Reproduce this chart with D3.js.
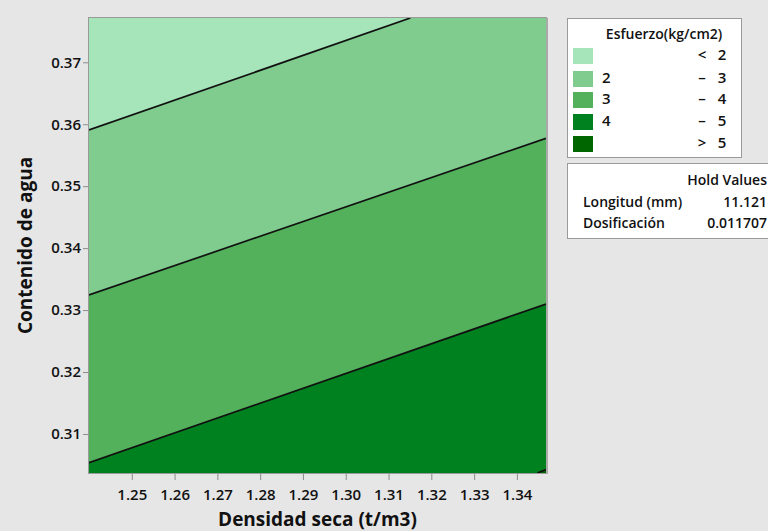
<!DOCTYPE html>
<html>
<head>
<meta charset="utf-8">
<script src="https://cdn.jsdelivr.net/npm/d3@7"></script>
<style>
  body { margin: 0; background: #e6e6e6; }
  svg { display: block; font-family: "Open Sans", "Noto Sans", sans-serif; }
</style>
</head>
<body>
<svg id="chart" width="768" height="531"></svg>
<script>
// axis ranges and ticks
var xDomain = [1.24, 1.3468];
var yDomain = [0.3037, 0.37715];
var xTicks = [1.25, 1.26, 1.27, 1.28, 1.29, 1.30, 1.31, 1.32, 1.33, 1.34];
var yTicks = [0.31, 0.32, 0.33, 0.34, 0.35, 0.36, 0.37];

// contour lines (Densidad seca, Contenido de agua)
var contour2 = [[1.24, 0.35907], [1.3151, 0.37715]];
var contour3 = [[1.24, 0.33244], [1.3468, 0.35773]];
var contour4 = [[1.24, 0.30537], [1.3468, 0.33098]];
var contour5 = [[1.34475, 0.3037], [1.3468, 0.30427]];

var bandLabels = [["", "<", "2"], ["2", "–", "3"], ["3", "–", "4"], ["4", "–", "5"], ["", ">", "5"]];
var bandColors = ["#a6e5b9", "#80cc8f", "#53b05b", "#008120", "#006700"];

var holdNames = ["Longitud (mm)", "Dosificación"];
var holdValues = ["11.121", "0.011707"];

var svg = d3.select("#chart");
var pL = 89, pT = 18, pR = 546, pB = 473;

var x = d3.scaleLinear().domain(xDomain).range([pL, pR]);
var y = d3.scaleLinear().domain(yDomain).range([pB, pT]);

svg.append("defs").append("clipPath").attr("id", "plotclip")
  .append("rect").attr("x", pL).attr("y", pT)
  .attr("width", pR - pL).attr("height", pB - pT);

var plot = svg.append("g").attr("clip-path", "url(#plotclip)");

plot.append("rect")
  .attr("x", pL).attr("y", pT)
  .attr("width", pR - pL).attr("height", pB - pT)
  .attr("fill", bandColors[0]);

// fill the area below each contour with the next band colour
var area = d3.area()
  .x(function(d) { return x(d[0]); })
  .y0(pB)
  .y1(function(d) { return y(d[1]); });

var contours = [contour2, contour3, contour4, contour5];
contours.forEach(function(c, i) {
  var pts = c.slice();
  var last = pts[pts.length - 1];
  if (last[0] < xDomain[1]) pts.push([xDomain[1], last[1]]);
  plot.append("path")
    .attr("d", area(pts))
    .attr("fill", bandColors[i + 1]);
});

var line = d3.line()
  .x(function(d) { return x(d[0]); })
  .y(function(d) { return y(d[1]); });

contours.forEach(function(c) {
  plot.append("path")
    .attr("d", line(c))
    .attr("fill", "none")
    .attr("stroke", "#111")
    .attr("stroke-width", 1.7);
});

// frame
svg.append("rect")
  .attr("x", pL - 0.5).attr("y", pT - 0.5)
  .attr("width", pR - pL + 1).attr("height", pB - pT + 1)
  .attr("fill", "none").attr("stroke", "#9a9a9a").attr("stroke-width", 1);
svg.append("line")
  .attr("x1", pR + 1).attr("x2", pR + 1).attr("y1", pT).attr("y2", pB + 1)
  .attr("stroke", "#aaa").attr("stroke-width", 2);

// axes
var xAxis = svg.append("g")
  .attr("transform", "translate(0," + (pB + 1) + ")")
  .call(d3.axisBottom(x).tickValues(xTicks).tickFormat(d3.format(".2f")).tickSize(6).tickSizeOuter(0));
var yAxis = svg.append("g")
  .attr("transform", "translate(" + (pL - 1) + ",0)")
  .call(d3.axisLeft(y).tickValues(yTicks).tickFormat(d3.format(".2f")).tickSize(5).tickSizeOuter(0));

[xAxis, yAxis].forEach(function(a) {
  a.select(".domain").remove();
  a.selectAll(".tick line").attr("stroke", "#8c8c8c");
  a.selectAll(".tick text")
    .attr("fill", "#111")
    .style("font-size", "15px")
    .style("font-weight", "600")
    .style("font-family", "'Open Sans', sans-serif");
});
xAxis.selectAll(".tick text").attr("dy", "1.1em");
yAxis.selectAll(".tick text").attr("x", -7);

svg.append("text")
  .attr("x", (pL + pR) / 2).attr("y", 526)
  .attr("text-anchor", "middle")
  .style("font-size", "19px").style("font-weight", "700").attr("fill", "#111")
  .text("Densidad seca (t/m3)");

svg.append("text")
  .attr("transform", "translate(32," + ((pT + pB) / 2) + ") rotate(-90)")
  .attr("text-anchor", "middle")
  .style("font-size", "19px").style("font-weight", "700").attr("fill", "#111")
  .text("Contenido de agua");

// legend
var lg = svg.append("g");
lg.append("rect")
  .attr("x", 567.5).attr("y", 18.5).attr("width", 174).attr("height", 139)
  .attr("fill", "#fff").attr("stroke", "#9a9a9a");
lg.append("text")
  .attr("x", 664).attr("y", 39).attr("text-anchor", "middle")
  .style("font-size", "14px").style("font-weight", "600").attr("fill", "#111")
  .text("Esfuerzo(kg/cm2)");

var rowY = [48, 71, 92, 114, 136];
bandLabels.forEach(function(b, i) {
  lg.append("rect")
    .attr("x", 573).attr("y", rowY[i]).attr("width", 20).attr("height", 16)
    .attr("fill", bandColors[i]);
  var ty = rowY[i] + 12;
  var t = lg.append("g").style("font-size", "15px").style("font-weight", "600").attr("fill", "#111");
  t.append("text").attr("x", 602).attr("y", ty).text(b[0]);
  t.append("text").attr("x", 702).attr("y", ty).attr("text-anchor", "middle").text(b[1]);
  t.append("text").attr("x", 722).attr("y", ty).attr("text-anchor", "middle").text(b[2]);
});

// hold values box
var hg = svg.append("g");
hg.append("rect")
  .attr("x", 567.5).attr("y", 163.5).attr("width", 220).attr("height", 75)
  .attr("fill", "#fff").attr("stroke", "#9a9a9a");
hg.append("text")
  .attr("x", 767).attr("y", 185).attr("text-anchor", "end")
  .style("font-size", "14px").style("font-weight", "600").attr("fill", "#111")
  .text("Hold Values");
holdNames.forEach(function(n, i) {
  var ty = 207 + i * 21;
  hg.append("text").attr("x", 583).attr("y", ty)
    .style("font-size", "14px").style("font-weight", "600").attr("fill", "#111").text(n);
  hg.append("text").attr("x", 767).attr("y", ty).attr("text-anchor", "end")
    .style("font-size", "14px").style("font-weight", "600").attr("fill", "#111").text(holdValues[i]);
});
</script>
</body>
</html>
